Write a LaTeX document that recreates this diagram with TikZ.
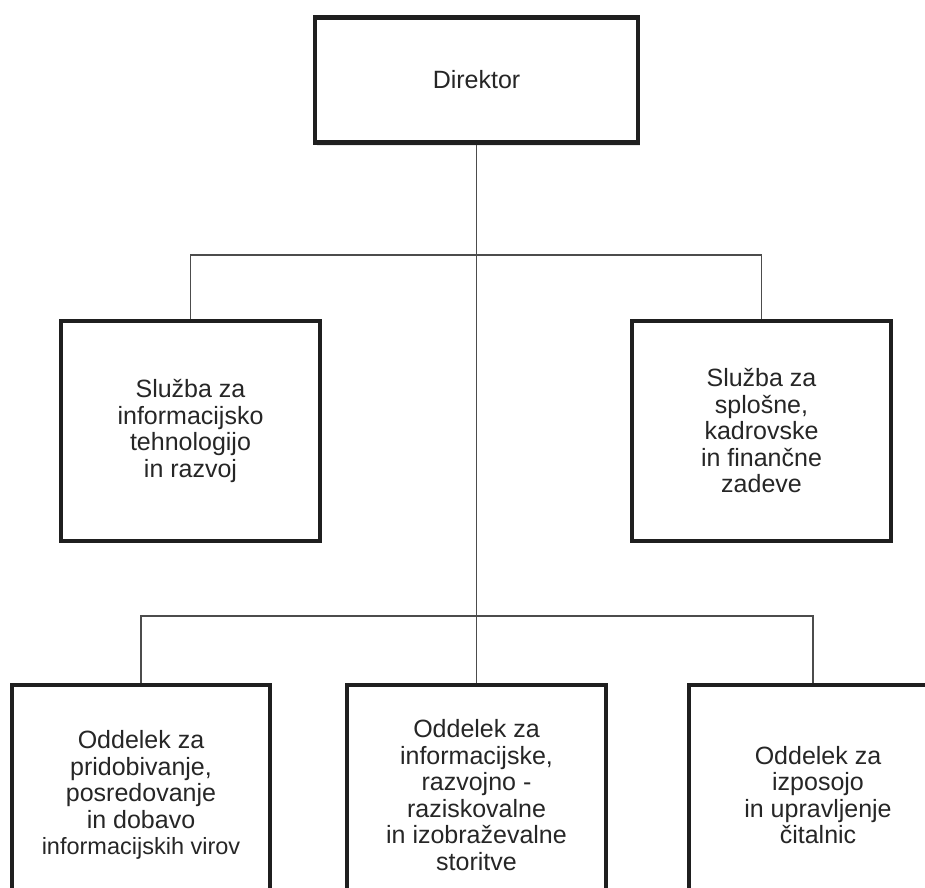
\documentclass[tikz,border=0pt]{standalone}
\usepackage{fontspec}
\setmainfont{Liberation Sans}
\usetikzlibrary{positioning}
\usetikzlibrary{shadows}

\begin{document}
\begin{tikzpicture}[x=1pt, y=-1pt,
    unitbox/.style={draw=black!88, line width=4pt, fill=white, align=center,
        text=black!85, inner sep=0pt, minimum width=259pt, minimum height=220pt,
        font=\fontsize{25}{26.5}\selectfont},
    link/.style={draw=black!70, line width=1.2pt}]

    \pgfmathsetmacro{\ubar}{255}
    \pgfmathsetmacro{\lbar}{616}

    \useasboundingbox (0,0) rectangle (925,887);
    \clip (0,0) rectangle (925,887);

    % Draw boxes
    \node[unitbox, line width=4.7pt, minimum width=323pt, minimum height=125.5pt,
        drop shadow={opacity=0.18, shadow xshift=1.5pt, shadow yshift=-3pt}]
        (dir) at (476.5, 80) {Direktor};

    \node[unitbox] (sit) at (190.5, 431) {Služba za\\informacijsko\\tehnologijo\\in razvoj};
    \node[unitbox] (sof) at (761.5, 431) {Služba za\\splošne,\\kadrovske\\in finančne\\zadeve};

    \node[unitbox, minimum width=258pt] (opd) at (141, 795)
        {Oddelek za\\pridobivanje,\\posredovanje\\in dobavo\\{\fontsize{23.5}{26.5}\selectfont informacijskih virov}};
    \node[unitbox] (oir) at (476.5, 795)
        {Oddelek za\\informacijske,\\razvojno -\\raziskovalne\\in izobraževalne\\storitve};
    \node[unitbox] (oiu) at (818, 795)
        {Oddelek za\\izposojo\\in upravljenje\\čitalnic};

    % Draw links
    \coordinate (ub) at (476.5, \ubar);
    \coordinate (lbl) at (141, \lbar);
    \coordinate (lbr) at (813, \lbar);

    \draw[link] (dir.south) -- (oir.north);
    \draw[link] (sit.north) -- (sit.north |- ub) -- (sof.north |- ub) -- (sof.north);
    \draw[link] (opd.north) -- (lbl) -- (lbr) -- (lbr |- oiu.north);

\end{tikzpicture}
\end{document}
